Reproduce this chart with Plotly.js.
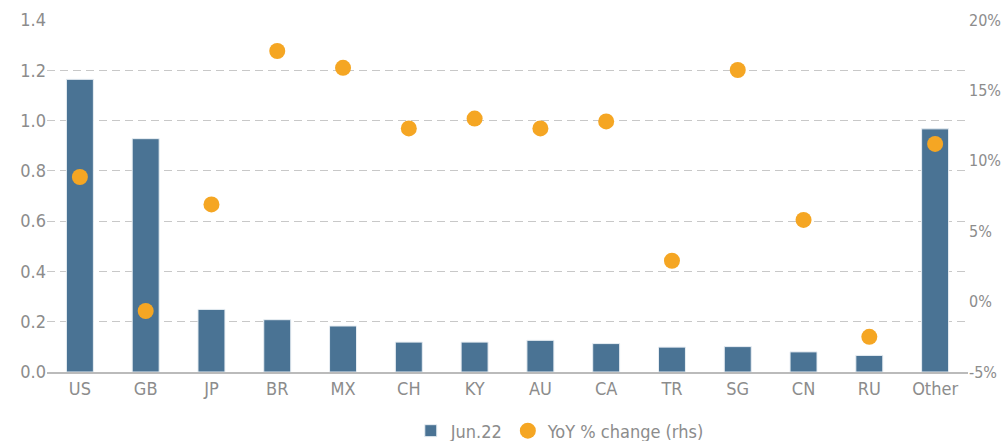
<!DOCTYPE html>
<html><head><meta charset="utf-8">
<script src="https://cdn.plot.ly/plotly-3.0.1.min.js"></script>
<style>html,body{margin:0;padding:0;background:#fff}#c{width:1005px;height:441px}</style>
</head><body><div id="c"></div>
<script>
const categories = ["US","GB","JP","BR","MX","CH","KY","AU","CA","TR","SG","CN","RU","Other"];
const jun22 = [1.164,0.928,0.249,0.208,0.183,0.119,0.119,0.126,0.113,0.099,0.101,0.080,0.066,0.967];
const yoyPct = [8.85,-0.67,6.9,17.8,16.6,12.3,13.0,12.3,12.8,2.9,16.45,5.8,-2.5,11.2];
const leftTicks = [0,0.2,0.4,0.6,0.8,1.0,1.2,1.4];
const leftTickLabels = ["0.0","0.2","0.4","0.6","0.8","1.0","1.2","1.4"];
const rightTicks = [-5,0,5,10,15,20];
const rightTickLabels = ["-5%","0%","5%","10%","15%","20%"];

const FONT = "DejaVu Sans Condensed, Liberation Sans Narrow, sans-serif";
const GREY = "#8c8c8c";

const data = [
  {type:"bar", name:"Jun.22", x:categories, y:jun22, width:0.41,
   marker:{color:"#4a7394", line:{color:"#e8eef3", width:1}}, yaxis:"y"},
  {type:"scatter", mode:"markers", name:"YoY % change (rhs)", x:categories, y:yoyPct,
   marker:{color:"#f5a623", size:16, symbol:"circle"}, yaxis:"y2"}
];

const layout = {
  width:1005, height:441,
  margin:{l:47, r:37, t:20, b:69, autoexpand:false},
  paper_bgcolor:"#fff", plot_bgcolor:"#fff",
  font:{family:FONT, color:GREY, size:18},
  showlegend:true,
  legend:{orientation:"h", xref:"paper", yref:"paper", x:0.395, xanchor:"left", y:-0.115, yanchor:"top",
          font:{family:FONT, size:18, color:GREY}, traceorder:"normal"},
  xaxis:{type:"category", range:[-0.5,13.5], showgrid:false, showline:true, linecolor:"#bbbbbb", linewidth:1.5,
         ticks:"", tickfont:{family:FONT, size:18, color:GREY}, zeroline:false, automargin:false},
  yaxis:{range:[0,1.4], tickvals:leftTicks, ticktext:leftTickLabels, showgrid:true,
         gridcolor:"#c8c8c8", griddash:"8px,5px", gridwidth:1, zeroline:false, showline:false,
         ticks:"", tickfont:{family:FONT, size:18, color:GREY}, automargin:false},
  yaxis2:{range:[-5,20], tickvals:rightTicks, ticktext:rightTickLabels, overlaying:"y", side:"right",
          showgrid:false, zeroline:false, showline:false, ticks:"",
          tickfont:{family:FONT, size:16, color:GREY}, automargin:false}
};

Plotly.newPlot("c", data, layout, {displayModeBar:false, staticPlot:true});
</script>
</body></html>
